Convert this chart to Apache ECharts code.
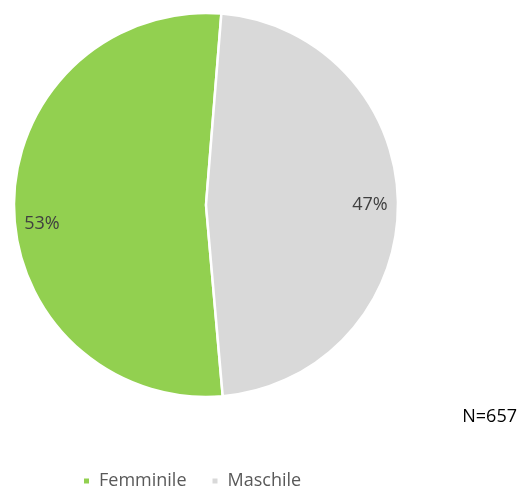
<!DOCTYPE html>
<html><head><meta charset="utf-8">
<script src="https://cdn.jsdelivr.net/npm/echarts@6/dist/echarts.min.js"></script>
<style>html,body{margin:0;padding:0;background:#fff}#c{width:518px;height:490px}</style>
</head><body><div id="c"></div>
<script>
const categories = ['Femminile', 'Maschile'];
const counts = [346, 311];
const total = 657;
const colors = ['#92D050', '#D9D9D9'];

const data = categories.map((n, i) => ({ name: n, value: counts[i], itemStyle: { color: colors[i] } }));
const chart = echarts.init(document.getElementById('c'), null, { renderer: 'canvas' });
const FONT = '"Open Sans", sans-serif';
chart.setOption({
  animation: false,
  backgroundColor: '#fff',
  legend: {
    data: categories,
    left: 77, top: 467,
    icon: 'rect', itemWidth: 7, itemHeight: 7, itemGap: 24,
    textStyle: { color: '#595959', fontSize: 18, fontFamily: FONT, padding: [0, 0, 0, 4] }
  },
  graphic: [{
    type: 'text', right: 1, top: 408,
    style: { text: 'N=' + total, fill: '#000', fontSize: 18, fontFamily: FONT }
  }],
  series: [{
    type: 'pie', center: [206, 205], radius: [0, 192], startAngle: -85, clockwise: true,
    data: data, label: { show: false }, labelLine: { show: false },
    itemStyle: { borderColor: '#fff', borderWidth: 2.5 }, emphasis: { disabled: true }
  }, {
    type: 'pie', center: [206, 205], radius: [130, 192], startAngle: -85, clockwise: true,
    silent: true,
    data: data.map(d => ({ name: d.name, value: d.value, itemStyle: { color: 'rgba(0,0,0,0)' } })),
    label: {
      show: true, position: 'inside', color: '#404040', fontSize: 18, fontFamily: FONT,
      formatter: p => Math.round(p.value / total * 100) + '%'
    },
    labelLayout: p => (p.dataIndex === 0 ? { dy: 18 } : {}),
    labelLine: { show: false }, emphasis: { disabled: true }
  }]
});
</script></body></html>
